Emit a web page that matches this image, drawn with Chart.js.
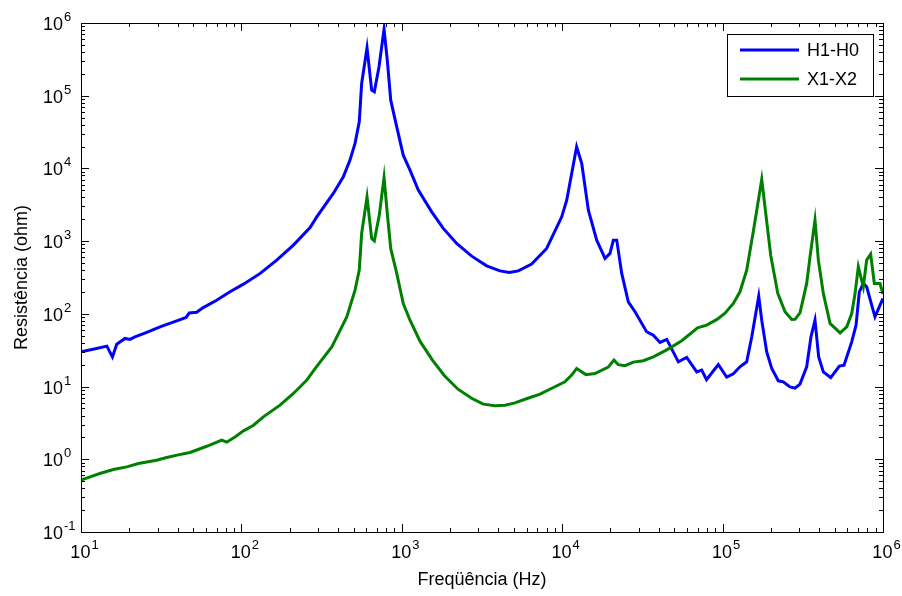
<!DOCTYPE html>
<html>
<head>
<meta charset="utf-8">
<script src="https://cdn.jsdelivr.net/npm/chart.js@4/dist/chart.umd.min.js"></script>
<style>
  html, body { margin: 0; padding: 0; background: #fff; }
  #wrap { width: 902px; height: 596px; }
</style>
</head>
<body>
<div id="wrap"><canvas id="chart" width="902" height="596"></canvas></div>
<script>
// valeurs (Hz, ohm)
const freqH = [10,12.5,14.5,15.7,16.7,18.8,20.2,21.7,25.7,31.1,39.5,45.2,47.3,52.6,57.8,70.1,84.9,103,131,166,
  211,268,295,374,432,475,511,543,562,607,649,674,721,775,812,853,930,1021,1125,1267,
  1536,1814,2198,2727,3381,4094,4680,5325,6450,8000,9930,10670,12300,13240,14560,16410,18490,19860,20840,21880,
  23500,25830,28440,33650,37000,40700,44860,52970,59730,69000,74100,79400,94000,106000,116700,128300,141300,152000,168000,175400,
  188400,202500,222500,238900,263000,282600,303800,334400,355600,376700,397200,424600,472000,534500,571500,638300,679200,711800,753600,791000,
  891000,1000000];
const resH = [30,33.4,36,25.6,38.3,45.9,44.5,48.3,55.5,66.2,80.1,89.2,103,105,122,154,201,256,360,548,
  881,1542,2158,4529,7650,13000,22100,43800,147600,456000,119000,113000,250000,817000,309000,86900,37300,15200,9480,5030,
  2530,1496,929,622,457,390,371,390,483,794,2160,3660,19800,11700,2670,1032,578,678,1032,1032,
  360,146,107,56.5,50.9,40.4,44.5,21.9,25.1,15.9,16.8,12.4,20.1,13.5,15.0,18.7,21.9,48.3,175,81.8,
  30,17.7,12.0,11.6,9.9,9.5,10.8,18.7,48.3,81.8,25.6,15.9,13.3,19.1,19.7,41.2,70.0,201,262,235,
  91,163];

const freqX = [10,11.4,13.1,15.9,19.3,22.8,29.6,34.2,40.4,47.8,60.8,75.4,81,91.2,103,119,137,174,211,255,
  288,366,454,511,543,562,607,649,674,724,775,812,853,930,1021,1125,1298,1553,1845,2240,
  2740,3222,3811,4400,5080,6040,7280,8810,10400,11460,12300,14060,16000,19360,21030,22380,24650,27760,32060,37000,
  44860,55650,69800,79600,92300,103500,116700,128300,141300,155300,175400,183700,199500,220800,245000,269800,282600,303800,334400,350700,
  376700,395400,424600,467700,540000,594300,638300,669500,701800,753600,791000,837500,883000,957500,1000000];
const resX = [0.516,0.573,0.638,0.724,0.786,0.875,0.972,1.06,1.15,1.24,1.51,1.83,1.72,2.03,2.46,2.94,3.83,5.55,8.04,12.2,
  17.7,35.2,91,212,399,1276,4060,1089,1010,2280,7520,2400,794,360,139,81.8,42.1,23.1,14.1,9.2,
  6.86,5.73,5.43,5.55,5.97,6.86,7.87,9.72,11.6,14.4,17.7,14.6,15.1,18.5,23.1,20.0,19.4,21.7,22.7,25.6,
  32.0,42.8,64.1,70.0,83.8,102,139,201,399,1343,7060,2970,641,191,107,83.8,84,103,262,608,
  1945,548,191,73.8,54.8,66.2,101,191,443,235,548,662,262,262,187];

const seriesNames = ['H1-H0', 'X1-X2'];
const xTickExp = [1, 2, 3, 4, 5, 6];
const yTickExp = [-1, 0, 1, 2, 3, 4, 5, 6];
const xTitle = 'Freqüência (Hz)';
const yTitle = 'Resistência (ohm)';

const FONT = '"Liberation Sans", Arial, sans-serif';

function toPoints(xs, ys) {
  return xs.map((f, i) => ({ x: f, y: ys[i] }));
}

// "10" + exposant
function drawPow(ctx, x, y, exp, mode) {
  ctx.font = '18px ' + FONT;
  const base = '10';
  const wb = ctx.measureText(base).width;
  ctx.font = '13px ' + FONT;
  const sup = String(exp);
  const ws = ctx.measureText(sup).width;
  let xb;
  if (mode === 'y') xb = x - wb;          // "10" aligné à droite
  else xb = x - (wb + ws) / 2;            // label centré
  ctx.textAlign = 'left';
  ctx.textBaseline = 'alphabetic';
  ctx.font = '18px ' + FONT;
  ctx.fillText(base, xb, y);
  ctx.font = '13px ' + FONT;
  ctx.fillText(sup, xb + wb + 1, y - 9);
}

const axesPlugin = {
  id: 'matlabAxes',
  afterDraw(chart) {
    const { ctx, chartArea: a, scales } = chart;
    const sx = scales.x, sy = scales.y;
    ctx.save();
    ctx.strokeStyle = '#000';
    ctx.fillStyle = '#000';
    ctx.lineWidth = 1;

    // cadre
    ctx.strokeRect(Math.round(a.left) + 0.5, Math.round(a.top) + 0.5,
      Math.round(a.right - a.left), Math.round(a.bottom - a.top));

    ctx.beginPath();
    // graduations x
    for (let d = 1; d <= 6; d++) {
      for (let k = 1; k <= 9; k++) {
        const v = k * Math.pow(10, d);
        if (v > 1e6) break;
        const px = Math.round(sx.getPixelForValue(v)) + 0.5;
        const len = k === 1 ? 8 : 4;
        ctx.moveTo(px, a.bottom); ctx.lineTo(px, a.bottom - len);
        ctx.moveTo(px, a.top); ctx.lineTo(px, a.top + len);
      }
    }
    // graduations y
    for (let d = -1; d <= 6; d++) {
      for (let k = 1; k <= 9; k++) {
        const v = k * Math.pow(10, d);
        if (v > 1e6) break;
        const py = Math.round(sy.getPixelForValue(v)) + 0.5;
        const len = k === 1 ? 8 : 4;
        ctx.moveTo(a.left, py); ctx.lineTo(a.left + len, py);
        ctx.moveTo(a.right, py); ctx.lineTo(a.right - len, py);
      }
    }
    ctx.stroke();

    // étiquettes
    xTickExp.forEach(e => {
      const px = sx.getPixelForValue(Math.pow(10, e));
      drawPow(ctx, px + 3, a.bottom + 26, e, 'x');
    });
    yTickExp.forEach(e => {
      const py = sy.getPixelForValue(Math.pow(10, e));
      drawPow(ctx, 63, py + 7, e, 'y');
    });

    // titres des axes
    ctx.font = '18px ' + FONT;
    ctx.textAlign = 'center';
    ctx.textBaseline = 'alphabetic';
    ctx.fillText(xTitle, (a.left + a.right) / 2, 585);
    ctx.save();
    ctx.translate(27, (a.top + a.bottom) / 2);
    ctx.rotate(-Math.PI / 2);
    ctx.fillText(yTitle, 0, 0);
    ctx.restore();

    // légende
    const lx = 727, ly = 34, lw = 146, lh = 62;
    ctx.fillStyle = '#fff';
    ctx.fillRect(lx, ly, lw, lh);
    ctx.strokeRect(lx + 0.5, ly + 0.5, lw, lh);
    chart.data.datasets.forEach((ds, i) => {
      const yy = ly + 16 + i * 29;
      ctx.strokeStyle = ds.borderColor;
      ctx.lineWidth = 3;
      ctx.beginPath();
      ctx.moveTo(740, yy); ctx.lineTo(799, yy);
      ctx.stroke();
      ctx.fillStyle = '#000';
      ctx.font = '18px ' + FONT;
      ctx.textAlign = 'left';
      ctx.textBaseline = 'middle';
      ctx.fillText(ds.label, 807, yy + 1);
    });
    ctx.restore();
  }
};

const ctx = document.getElementById('chart').getContext('2d');
const chart = new Chart(ctx, {
  type: 'line',
  data: {
    datasets: [
      { label: seriesNames[0], data: toPoints(freqH, resH), borderColor: '#0000ff', borderWidth: 3, pointRadius: 0, tension: 0, fill: false, order: 1 },
      { label: seriesNames[1], data: toPoints(freqX, resX), borderColor: '#008000', borderWidth: 3, pointRadius: 0, tension: 0, fill: false, order: 0 }
    ]
  },
  options: {
    responsive: false,
    animation: false,
    devicePixelRatio: 1,
    layout: { padding: { top: 23, right: 19, left: 0, bottom: 0 } },
    plugins: { legend: { display: false }, tooltip: { enabled: false } },
    scales: {
      x: {
        type: 'logarithmic', min: 10, max: 1e6,
        grid: { display: false }, border: { display: false },
        ticks: { display: false },
        afterFit: s => { s.height = 64; }
      },
      y: {
        type: 'logarithmic', min: 0.1, max: 1e6,
        grid: { display: false }, border: { display: false },
        ticks: { display: false },
        afterFit: s => { s.width = 81; }
      }
    }
  },
  plugins: [axesPlugin]
});
</script>
</body>
</html>
